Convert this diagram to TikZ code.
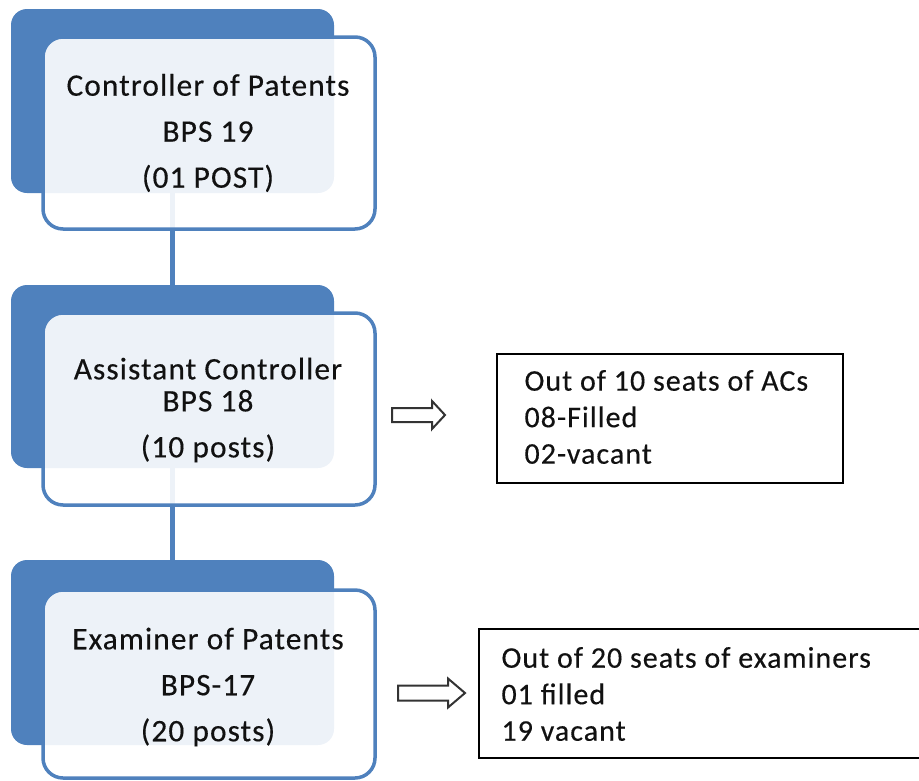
\documentclass[tikz,border=0pt]{standalone}
\usepackage{fontspec}
\setmainfont{Carlito}
\newfontfamily\boxfont{Carlito}[LetterSpace=3.6,FakeBold=0.35]
\newfontfamily\notefont{Carlito}[LetterSpace=3.4,FakeBold=0.35]
\definecolor{myblue}{HTML}{4F81BD}
\definecolor{txt}{HTML}{111111}
\begin{document}
\begin{tikzpicture}[x=1pt,y=-1pt,
  back/.style={fill=myblue, draw=none, rounded corners=16pt, anchor=north west, inner sep=0pt, outer sep=0pt},
  front/.style={draw=myblue, line width=3.5pt, fill=white, fill opacity=0.9, rounded corners=20pt, anchor=north west, inner sep=0pt, outer sep=0pt},
  conn/.style={draw=myblue, line width=5pt},
  title/.style={align=center, font=\fontsize{31.3}{46}\boxfont, text=txt},
  note/.style={draw=black, line width=2pt, anchor=north west, inner sep=0pt},
  notetext/.style={align=left, anchor=west, font=\fontsize{30}{36.5}\notefont, text=txt},
  openarrow/.style={draw=black!80, line width=2pt, fill=white, line join=miter}]
\useasboundingbox (0,0) rectangle (919,780);
\clip (0,0) rectangle (919,780);
% back boxes
\node[back, minimum width=323, minimum height=184] (b1) at (11,9) {};
\node[back, minimum width=323, minimum height=183] (b2) at (11,285) {};
\node[back, minimum width=323, minimum height=185] (b3) at (11,560) {};
% connectors
\draw[conn] (b1.south) -- (b2.north);
\draw[conn] (b2.south) -- (b3.north);
% front boxes
\node[front, minimum width=332, minimum height=192] (f1) at (43,37) {};
\node[front, minimum width=332, minimum height=192] (f2) at (43,313) {};
\node[front, minimum width=332, minimum height=188] (f3) at (43,590) {};
% titles
\node[title] (t1) at (208,133) {Controller of Patents\\BPS 19\\(01 POST)};
\node[title] (t2) at (208,410) {Assistant Controller\\[-14pt]BPS 18\\(10 posts)};
\node[title] (t3) at (208,687) {Examiner of Patents\\BPS-17\\(20 posts)};
% notes
\node[note, minimum width=346, minimum height=129] (n1) at (496,353) {};
\node[note, minimum width=447, minimum height=129] (n2) at (478,628) {};
\node[notetext] (nt1) at (521,417) {Out of 10 seats of ACs\\08-Filled\\02-vacant};
\node[notetext] (nt2) at (498,694) {Out of 20 seats of examiners\\01 filled\\19 vacant};
% block arrows
\coordinate (a1) at (392,415);
\draw[openarrow] (a1) ++(0,-7) -- ++(40,0) -- ++(0,-7) -- ++(13,14) -- ++(-13,14) -- ++(0,-7) -- ++(-40,0) -- cycle;
\coordinate (a2) at (398,693);
\draw[openarrow] (a2) ++(0,-7.5) -- ++(50,0) -- ++(0,-7) -- ++(17,14.5) -- ++(-17,14.5) -- ++(0,-7) -- ++(-50,0) -- cycle;
\end{tikzpicture}
\end{document}
